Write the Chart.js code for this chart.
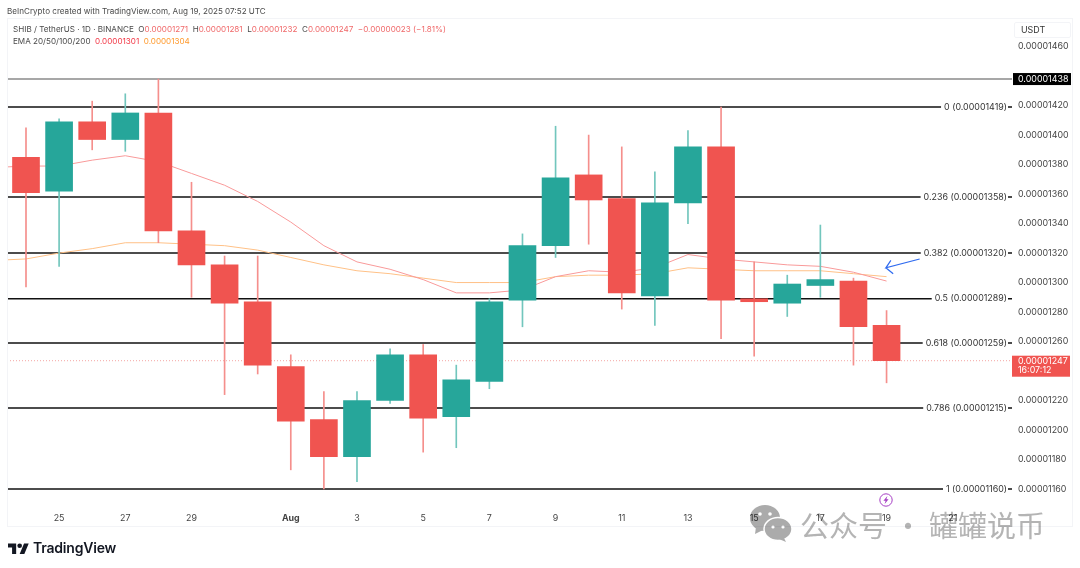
<!DOCTYPE html>
<html>
<head>
<meta charset="utf-8">
<title>SHIB / TetherUS</title>
<script src="https://cdn.jsdelivr.net/npm/chart.js@4/dist/chart.umd.js"></script>
<style>
  html, body { margin: 0; background: #fff; }
  body { width: 1080px; height: 568px; position: relative; overflow: hidden; font-family: Inter, "Liberation Sans", sans-serif; }
  canvas { position: absolute; left: 0; top: 0; }
  .txt { position: absolute; white-space: nowrap; font-size: 8.1px; line-height: 12px; color: #4a4a4a; }
  .up { color: #f0696a; }
  #frame { position: absolute; left: 7px; top: 18px; width: 1066px; height: 509px; border: 1px solid #f3f4f7; box-sizing: border-box; }
  #usdt { position: absolute; left: 1014px; top: 22px; width: 57px; height: 16px; border: 1px solid #f3f4f7; box-sizing: border-box; border-radius: 2px; font-size: 8.9px; line-height: 14px; color: #333; padding-left: 6px; }
  #tvname { position: absolute; left: 33px; top: 539px; font-size: 14px; line-height: 18px; font-weight: 600; color: #131722; letter-spacing: -0.2px; }
  #mark { position: absolute; left: 800px; top: 504px; font-family: "Noto Sans CJK SC", sans-serif; font-weight: 400; font-size: 29px; line-height: 40px; color: #b4b4b4; white-space: nowrap; mix-blend-mode: multiply; }
</style>
</head>
<body>
<canvas id="chart" width="1080" height="568"></canvas>
<div id="frame"></div>
<div id="usdt">USDT</div>
<div class="txt" style="left:7px;top:5px;">BeInCrypto created with TradingView.com, Aug 19, 2025 07:52 UTC</div>
<div class="txt" style="left:13px;top:23px;">SHIB / TetherUS · 1D · BINANCE &nbsp;O<span class="up">0.00001271</span> &nbsp;H<span class="up">0.00001281</span> &nbsp;L<span class="up">0.00001232</span> &nbsp;C<span class="up">0.00001247</span> &nbsp;<span class="up">−0.00000023 (−1.81%)</span></div>
<div class="txt" style="left:13px;top:35px;">EMA 20/50/100/200 &nbsp;<span style="color:#f23645">0.00001301</span> &nbsp;<span style="color:#ff9a2e">0.00001304</span></div>
<svg style="position:absolute;left:879px;top:493px" width="14" height="14" viewBox="0 0 14 14">
  <circle cx="7" cy="7" r="6.2" fill="#fff" stroke="#a63fc4" stroke-width="1"/>
  <path d="M8.4 3 L4.4 7.8 H6.6 L5.6 11 L9.6 6.2 H7.4 Z" fill="#a63fc4"/>
</svg>
<svg style="position:absolute;left:8px;top:541px" width="21" height="13" viewBox="0 0 36 22">
  <path d="M14 22H7V11H0V4h14v18zM28 22h-8l7.5-18h8L28 22z" fill="#131722"/>
  <circle cx="20" cy="8" r="4" fill="#131722"/>
</svg>
<div id="tvname">TradingView</div>
<svg style="position:absolute;left:748px;top:504px;mix-blend-mode:multiply" width="46" height="38" viewBox="0 0 46 38">
  <ellipse cx="17" cy="14" rx="15" ry="13" fill="#ababab"/>
  <path d="M8 23 L7 30 L15 26 Z" fill="#ababab"/>
  <ellipse cx="30" cy="25" rx="14" ry="11.5" fill="#ababab" stroke="#fff" stroke-width="1.5"/>
  <path d="M36 34 L38 38 L31 35 Z" fill="#ababab"/>
  <circle cx="12" cy="10" r="1.8" fill="#fff"/><circle cx="22" cy="10" r="1.8" fill="#fff"/>
  <circle cx="25" cy="23" r="1.6" fill="#fff"/><circle cx="35" cy="23" r="1.6" fill="#fff"/>
</svg>
<div id="mark">公众号 · 罐罐说币</div>

<script>
// prices are in units of 0.00000001
const dates = ["Jul 24","Jul 25","Jul 26","Jul 27","Jul 28","Jul 29","Jul 30","Jul 31","Aug 1","Aug 2","Aug 3","Aug 4","Aug 5","Aug 6","Aug 7","Aug 8","Aug 9","Aug 10","Aug 11","Aug 12","Aug 13","Aug 14","Aug 15","Aug 16","Aug 17","Aug 18","Aug 19"];
const opens  = [1385,1362,1409,1397,1415,1335,1312,1287,1243,1207,1182,1220,1251,1209,1233,1288,1325,1373,1357,1291,1354,1392,1289,1286,1298,1301,1271];
const highs  = [1405,1411,1423,1428,1438,1368,1318,1318,1251,1226,1226,1255,1258,1244,1289,1333,1406,1400,1392,1375,1403,1419,1314,1305,1339,1303,1281];
const lows   = [1297,1311,1390,1389,1327,1290,1224,1238,1173,1160,1165,1218,1185,1188,1228,1270,1317,1326,1282,1271,1340,1262,1250,1277,1290,1244,1232];
const closes = [1361,1409,1397,1415,1335,1312,1286,1244,1206,1182,1220,1251,1208,1234,1287,1325,1371,1356,1293,1354,1392,1288,1287,1299,1302,1270,1247];

// first value belongs to the day before the first candle, it runs off the left edge
const ema20 = [1378,1379,1379,1383,1386,1382,1374,1366,1355,1341,1325,1314,1309,1302,1293,1293,1295,1304,1308,1307,1310,1319,1316,1314,1312,1311,1307,1301];
const ema50 = [1315,1316,1320,1323,1327,1327,1326,1325,1322,1317,1312,1308,1306,1303,1300,1300,1300,1304,1305,1305,1306,1310,1309,1308,1308,1308,1306,1304];

const fibRatios = ["0","0.236","0.382","0.5","0.618","0.786","1"];
const fibPrices = [1419,1358,1320,1289,1259,1215,1160];

const yTicks = [1160,1180,1200,1220,1260,1280,1300,1320,1340,1360,1380,1400,1420,1460];
const xTickDays = [1,3,5,8,10,12,14,16,18,20,22,24,26,28];
const xTickLabels = ["25","27","29","Aug","3","5","7","9","11","13","15","17","19","21"];

const lastHigh = 1438;
const lastClose = 1247;
const countdown = "16:07:12";

// arrow pointing at the end of the EMAs: day, price
const arrowDays   = [27.0,25.98,26.13,25.98,26.2];
const arrowPrices = [1316,1310,1315,1310,1306];

const xMin = -0.574;
const xMax = 29.79;
const upColor = "#26a69a";
const downColor = "#f05450";
const upWick = "#72c6bd";
const downWick = "#f58f8c";
const fontName = "Inter, 'Liberation Sans', sans-serif";

function fmt(v) {
  return (v / 1e8).toFixed(8);
}

function flatLine(price, color, width, dash, order) {
  return {
    type: "line",
    data: [{ x: xMin, y: price }, { x: xMax, y: price }],
    borderColor: color,
    borderWidth: width,
    borderDash: dash,
    pointRadius: 0,
    order: order,
  };
}

const datasets = [];
fibPrices.forEach((p) => datasets.push(flatLine(p, "#111111", 1.5, [], 6)));
datasets.push(flatLine(lastHigh, "#8a8a8a", 1.5, [], 6));
datasets.push(flatLine(lastClose, "#f4a5a3", 1, [1, 2], 6));

datasets.push({
  type: "line",
  data: ema20.map((v, i) => ({ x: i - 1, y: v })),
  borderColor: "#f99a9a",
  borderWidth: 1,
  pointRadius: 0,
  order: 4,
});
datasets.push({
  type: "line",
  data: ema50.map((v, i) => ({ x: i - 1, y: v })),
  borderColor: "#ffc187",
  borderWidth: 1,
  pointRadius: 0,
  order: 5,
});
datasets.push({
  data: dates.map((d, i) => ({ x: i, y: [lows[i], highs[i]] })),
  backgroundColor: closes.map((c, i) => (c >= opens[i] ? upWick : downWick)),
  barThickness: 1,
  grouped: false,
  order: 3,
});
datasets.push({
  data: dates.map((d, i) => ({ x: i, y: [opens[i], closes[i]] })),
  backgroundColor: closes.map((c, i) => (c >= opens[i] ? upColor : downColor)),
  barThickness: 27,
  grouped: false,
  order: 2,
});
datasets.push({
  type: "line",
  data: arrowDays.map((d, i) => ({ x: d, y: arrowPrices[i] })),
  borderColor: "#2f6bf0",
  borderWidth: 1.2,
  pointRadius: 0,
  order: 1,
});

// fib labels sit on a white patch over the line, last price tags sit on the axis
const labelsPlugin = {
  id: "labels",
  afterDraw(chart) {
    const ctx = chart.ctx;
    const y = chart.scales.y;
    const right = chart.chartArea.right;
    ctx.save();
    ctx.font = "8.9px " + fontName;
    ctx.textBaseline = "middle";

    fibPrices.forEach((p, i) => {
      const text = fibRatios[i] + " (" + fmt(p) + ")";
      const w = ctx.measureText(text).width;
      const py = y.getPixelForValue(p);
      ctx.fillStyle = "#fff";
      ctx.fillRect(right - 5 - w - 3, py - 3, w + 4, 6);
      ctx.fillStyle = "#333";
      ctx.textAlign = "right";
      ctx.fillText(text, right - 5, py);
    });

    ctx.textAlign = "left";
    const hy = y.getPixelForValue(lastHigh);
    ctx.fillStyle = "#000";
    ctx.fillRect(right + 1, hy - 6, 58, 12);
    ctx.fillStyle = "#fff";
    ctx.fillText(fmt(lastHigh), right + 6, hy + 0.5);

    const cy = y.getPixelForValue(lastClose);
    ctx.fillStyle = downColor;
    ctx.fillRect(right, cy - 5, 58, 21);
    ctx.fillStyle = "#fff";
    ctx.fillText(fmt(lastClose), right + 6, cy + 1);
    ctx.fillText(countdown, right + 6, cy + 10);
    ctx.restore();
  },
};

new Chart(document.getElementById("chart"), {
  type: "bar",
  data: { datasets: datasets },
  plugins: [labelsPlugin],
  options: {
    responsive: false,
    animation: false,
    devicePixelRatio: 1,
    layout: { padding: { left: 7, top: 18, right: 7, bottom: 41 } },
    plugins: { legend: { display: false }, tooltip: { enabled: false } },
    scales: {
      x: {
        type: "linear",
        offset: false,
        min: xMin,
        max: xMax,
        grid: { display: false, drawTicks: false },
        border: { display: false },
        afterBuildTicks(scale) {
          scale.ticks = xTickDays.map((d) => ({ value: d }));
        },
        afterFit(scale) {
          scale.height = 22;
        },
        ticks: {
          autoSkip: false,
          maxRotation: 0,
          padding: 8,
          color: "#444",
          font: (c) => ({
            family: fontName,
            size: 8.9,
            weight: c.tick && c.tick.value === 8 ? "bold" : "normal",
          }),
          callback: (v) => xTickLabels[xTickDays.indexOf(v)],
        },
      },
      y: {
        position: "right",
        min: 1149.15,
        max: 1479.4,
        grid: { display: false, drawTicks: false },
        border: { display: false },
        afterBuildTicks(scale) {
          scale.ticks = yTicks.map((v) => ({ value: v }));
        },
        afterFit(scale) {
          scale.width = 61;
        },
        ticks: {
          padding: 6,
          color: "#444",
          font: { family: fontName, size: 8.9 },
          callback: (v) => fmt(v),
        },
      },
    },
  },
});
</script>
</body>
</html>
